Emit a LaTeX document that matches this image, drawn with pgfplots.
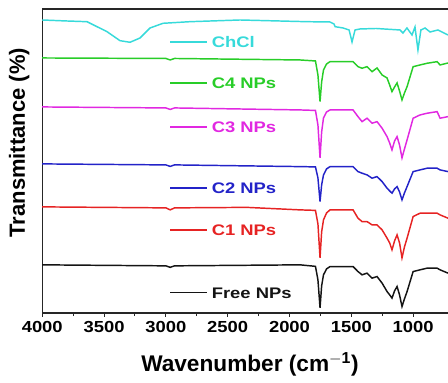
\documentclass[border=0pt]{standalone}
\usepackage{pgfplots}
\pgfplotsset{compat=1.18}
\usepackage{fontspec}
\setmainfont{Liberation Sans}
\definecolor{cChCl}{RGB}{55,218,218}
\definecolor{cC4}{RGB}{40,205,40}
\definecolor{cC3}{RGB}{225,40,225}
\definecolor{cC2}{RGB}{35,35,200}
\definecolor{cC1}{RGB}{230,35,35}
\definecolor{cFree}{RGB}{20,20,20}
\newcommand{\lab}[2]{\textcolor{#1}{\rule[0.30em]{23pt}{1.2pt}\hspace{3pt}#2}}
\begin{document}
\begin{tikzpicture}
\begin{axis}[
  name=ax,
  scale only axis,
  width=304.5pt, height=228pt,
  x dir=reverse,
  xmin=718, xmax=4000,
  ymin=0, ymax=304,
  axis x line*=box,
  axis y line*=left,
  axis line style={line width=1.1pt, black!85},
  xtick={1000,1500,2000,2500,3000,3500,4000},
  minor x tick num=1,
  xtick pos=bottom,
  ytick=\empty,
  tick align=outside,
  major tick length=3pt,
  minor tick length=2.5pt,
  every tick/.style={black!85, line width=0.8pt},
  /pgf/number format/assume math mode=true,
  /pgf/number format/set thousands separator={},
  xticklabel style={font=\bfseries\fontsize{12}{14}\selectfont, xscale=1.15},
  every axis x label/.style={at={(axis description cs:0.512,0)}, anchor=base, yshift=-44.25pt},
  every axis y label/.style={at={(axis description cs:-0.02,0.56)}, rotate=90, anchor=south},
  xlabel={\bfseries\fontsize{17}{20}\selectfont Wavenumber (cm$^{\mathbf{-1}}$)},
  ylabel={\bfseries\fontsize{16.5}{19}\selectfont Transmittance (\%)},
  every axis plot/.append style={line width=1.1pt},
  clip=true,
]
% ChCl
\addplot[cChCl] coordinates {
(4000,293) (3800,292) (3638,291.3) (3476,281.3) (3371,272.3) (3290,270.7) (3209,275) (3128,285) (3023,289.7) (2805,291.3) (2400,293) (1858,291.3) (1672,291) (1640,289) (1631,286.3) (1567,285) (1518,283) (1494,271) (1470,283) (1430,284) (1300,284.5) (1106,283) (1082,280) (1050,285) (1009,278) (985,286) (961,263) (937,283) (904,285) (863,281) (799,283) (718,278)
};
% C4
\addplot[cC4] coordinates {
(4000,255) (3000,254.5) (2965,253) (2930,254.5) (1915,253) (1790,252) (1770,238) (1753,211.3) (1740,231) (1725,243) (1700,249) (1672,251.3) (1486,251.3) (1446,246.3) (1413,244.7) (1373,246.3) (1332,241.3) (1292,245) (1251,238) (1211,235) (1190,228) (1171,221.3) (1150,226) (1130,230) (1110,222) (1090,213) (1070,220) (1049,226.3) (1000,246.3) (944,248) (887,249.7) (806,251.3) (782,248) (718,250)
};
% C3
\addplot[cC3] coordinates {
(4000,206) (3000,205) (2965,203.5) (2930,205) (1915,203) (1790,202.5) (1770,188) (1753,155) (1740,181) (1725,195) (1700,201) (1672,203) (1486,203) (1446,196.3) (1413,191.3) (1373,194.7) (1332,189.7) (1292,191.3) (1251,184.7) (1211,176.3) (1190,170) (1171,163) (1150,172) (1130,176.3) (1110,168) (1090,155) (1070,164) (1049,173) (1000,194.7) (944,198) (887,199.7) (806,201.3) (782,194.7) (718,196.3)
};
% C2
\addplot[cC2] coordinates {
(4000,149) (3000,148) (2965,146.5) (2930,148) (1915,146.3) (1790,146) (1770,135) (1753,111.3) (1740,128) (1725,138) (1700,144) (1672,146.3) (1486,146.3) (1446,141.3) (1413,139.7) (1373,138) (1332,134.7) (1292,136.3) (1251,131.3) (1211,124.7) (1190,122) (1171,119.7) (1150,124) (1130,126.3) (1110,121) (1090,113) (1070,120) (1049,126.3) (1000,141.3) (944,143) (887,144.7) (806,144.7) (782,143) (718,141.3)
};
% C1
\addplot[cC1] coordinates {
(4000,106) (3000,105) (2965,103) (2930,105) (2345,105.5) (1915,103) (1790,102.5) (1770,89) (1753,55) (1740,81) (1725,93) (1700,100) (1672,103) (1486,103) (1446,94.7) (1413,91.3) (1373,91.3) (1332,88) (1292,88) (1251,83) (1211,74.7) (1190,70) (1171,63) (1150,72) (1130,78) (1110,70) (1090,55) (1070,66) (1049,74.7) (1000,96.3) (944,99.7) (887,99.7) (806,99.7) (782,98) (718,94.7)
};
% Free NPs
\addplot[cFree] coordinates {
(4000,48) (3000,47) (2965,45.5) (2930,47) (1915,48) (1790,46.5) (1770,33) (1753,5) (1740,27) (1725,38) (1700,44) (1672,46.3) (1486,46.3) (1446,41.3) (1413,38) (1373,39.7) (1332,34.7) (1292,36.3) (1251,29.7) (1211,21.3) (1190,18) (1171,14.7) (1150,22) (1130,26.3) (1110,18) (1090,6.3) (1070,14) (1049,21.3) (1000,41.3) (944,43) (887,44.7) (806,44.7) (782,43) (718,39.7)
};
\tikzset{labnode/.style={anchor=west, inner sep=0pt, xscale=1.2, font=\bfseries\fontsize{11.5}{13}\selectfont}}
\node[labnode] at (axis cs:2967,271) {\lab{cChCl}{ChCl}};
\node[labnode] at (axis cs:2967,230) {\lab{cC4}{C4 NPs}};
\node[labnode] at (axis cs:2967,186) {\lab{cC3}{C3 NPs}};
\node[labnode] at (axis cs:2967,125) {\lab{cC2}{C2 NPs}};
\node[labnode] at (axis cs:2967,83) {\lab{cC1}{C1 NPs}};
\node[labnode] at (axis cs:2967,20) {\lab{cFree}{Free NPs}};
\end{axis}
\pgfresetboundingbox
\path[use as bounding box] ([xshift=-31.7pt,yshift=-52.5pt]ax.south west) rectangle ([yshift=6.75pt]ax.north east);
\end{tikzpicture}
\end{document}
